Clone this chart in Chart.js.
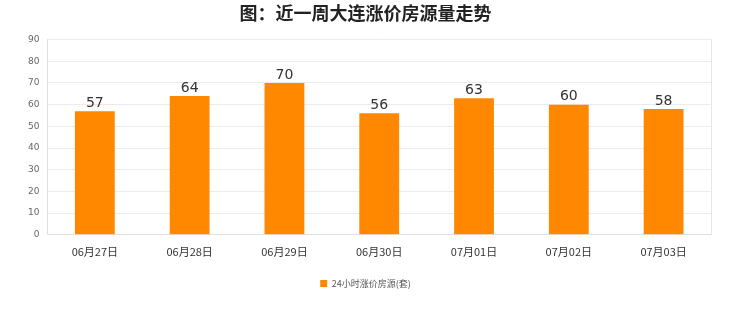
<!DOCTYPE html>
<html>
<head>
<meta charset="utf-8">
<script src="https://cdn.jsdelivr.net/npm/chart.js@4.4.0/dist/chart.umd.min.js"></script>
<style>
  html, body { margin: 0; padding: 0; background: #fff; }
  #wrap { width: 740px; height: 312px; }
</style>
</head>
<body>
<div id="wrap"><canvas id="chart"></canvas></div>
<script>
const categories = ['06月27日', '06月28日', '06月29日', '06月30日', '07月01日', '07月02日', '07月03日'];
const riseCounts = [57, 64, 70, 56, 63, 60, 58];
const yTicks = [0, 10, 20, 30, 40, 50, 60, 70, 80, 90];

// value labels on top of the bars + right border of the plot
const barLabels = {
    id: 'barLabels',
    afterDatasetsDraw(chart) {
        const ctx = chart.ctx;
        const area = chart.chartArea;
        ctx.save();
        ctx.strokeStyle = '#e6e6e6';
        ctx.lineWidth = 1;
        ctx.beginPath();
        ctx.moveTo(Math.round(area.right) + 0.5, area.top);
        ctx.lineTo(Math.round(area.right) + 0.5, area.bottom);
        ctx.stroke();

        ctx.font = '14px "DejaVu Sans", sans-serif';
        ctx.fillStyle = '#333';
        ctx.textAlign = 'center';
        ctx.textBaseline = 'bottom';
        chart.getDatasetMeta(0).data.forEach((bar, i) => {
            ctx.fillText(riseCounts[i], bar.x, bar.y - 1);
        });
        ctx.restore();
    }
};

new Chart(document.getElementById('chart'), {
    type: 'bar',
    data: {
        labels: categories,
        datasets: [{
            label: '24小时涨价房源(套)',
            data: riseCounts,
            backgroundColor: '#ff8800',
            borderWidth: 0,
            barPercentage: 0.42,
            categoryPercentage: 1
        }]
    },
    options: {
        responsive: true,
        maintainAspectRatio: false,
        animation: false,
        layout: { padding: { left: 20, right: 29, top: 0, bottom: 14 } },
        plugins: {
            title: {
                display: true,
                text: '图：近一周大连涨价房源量走势',
                font: { size: 18, weight: 'bold', family: '"Noto Sans CJK SC", sans-serif' },
                color: '#222',
                padding: { top: 2, bottom: 16 }
            },
            legend: {
                position: 'bottom',
                labels: {
                    boxWidth: 7,
                    boxHeight: 7,
                    font: { size: 9, family: '"Noto Sans CJK SC", sans-serif' },
                    color: '#555',
                    padding: 14
                }
            },
            tooltip: { enabled: false }
        },
        scales: {
            x: {
                grid: { display: false },
                border: { color: '#e0e0e0' },
                afterFit(axis) { axis.height += 5; },
                ticks: {
                    color: '#333',
                    font: { size: 11, family: '"Noto Sans CJK SC", sans-serif' },
                    maxRotation: 0,
                    padding: 2
                }
            },
            y: {
                min: 0,
                max: 90,
                afterBuildTicks(axis) {
                    axis.ticks = yTicks.map(v => ({ value: v }));
                },
                grid: { color: '#ebebeb', drawTicks: false },
                border: { color: '#e0e0e0' },
                ticks: {
                    color: '#666',
                    font: { size: 9, family: '"DejaVu Sans", sans-serif' },
                    padding: 8
                }
            }
        }
    },
    plugins: [barLabels]
});
</script>
</body>
</html>
